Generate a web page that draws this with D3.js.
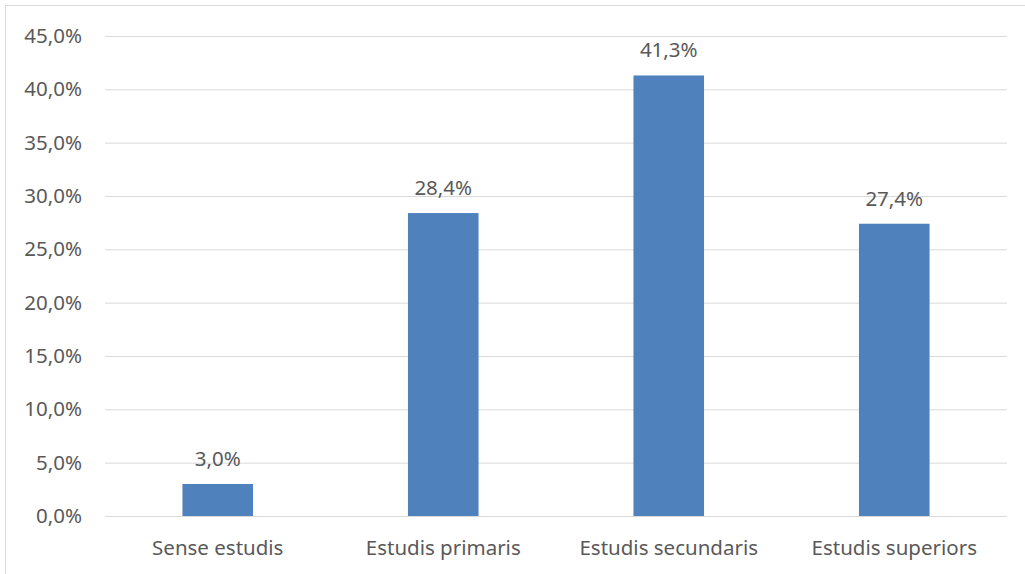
<!DOCTYPE html>
<html><head><meta charset="utf-8">
<script src="https://cdn.jsdelivr.net/npm/d3@7"></script>
<style>body{margin:0;background:#fff}svg{display:block}text{font-family:"Noto Sans",sans-serif;fill:#595959}</style>
</head><body>
<svg id="c" width="1025" height="574"></svg>
<script>
const categories = ["Sense estudis","Estudis primaris","Estudis secundaris","Estudis superiors"];
const values = [3.0, 28.4, 41.3, 27.4];
const tickValues = [0,5,10,15,20,25,30,35,40,45];
const fmt = v => d3.format(".1f")(v).replace(".", ",") + "%";
const FS = 20.5;

const svg = d3.select("#c");
svg.append("rect").attr("x",5.5).attr("y",5.5).attr("width",1030).attr("height",580)
  .attr("fill","none").attr("stroke","#d9d9d9");

const x = d3.scaleBand().domain(categories).range([105,1007]).paddingInner(0.687).paddingOuter(0.3435);
const y = d3.scaleLinear().domain([0,45]).range([516,36]);

const yAxis = svg.append("g").attr("transform","translate(105,0)")
  .call(d3.axisLeft(y).tickValues(tickValues).tickFormat(fmt).tickSize(-902).tickPadding(23));
yAxis.select(".domain").remove();
yAxis.selectAll("line").attr("stroke","#d9d9d9").attr("stroke-width",1);
yAxis.selectAll("text").attr("font-size",FS).attr("fill","#595959").style("font-family","'Noto Sans',sans-serif");

const xAxis = svg.append("g").attr("transform","translate(0,516)")
  .call(d3.axisBottom(x).tickSize(0).tickPadding(24));
xAxis.select(".domain").remove();
xAxis.selectAll("text").attr("font-size",FS).attr("fill","#595959").style("font-family","'Noto Sans',sans-serif");

svg.selectAll(".bar").data(values).enter().append("rect")
  .attr("x",(d,i)=>x(categories[i])).attr("width",x.bandwidth())
  .attr("y",d=>y(d)).attr("height",d=>y(0)-y(d)).attr("fill","#4f81bd");

svg.selectAll(".lbl").data(values).enter().append("text")
  .attr("x",(d,i)=>x(categories[i])+x.bandwidth()/2).attr("y",d=>y(d)-18)
  .attr("text-anchor","middle").attr("font-size",FS).text(fmt);
</script>
</body></html>
